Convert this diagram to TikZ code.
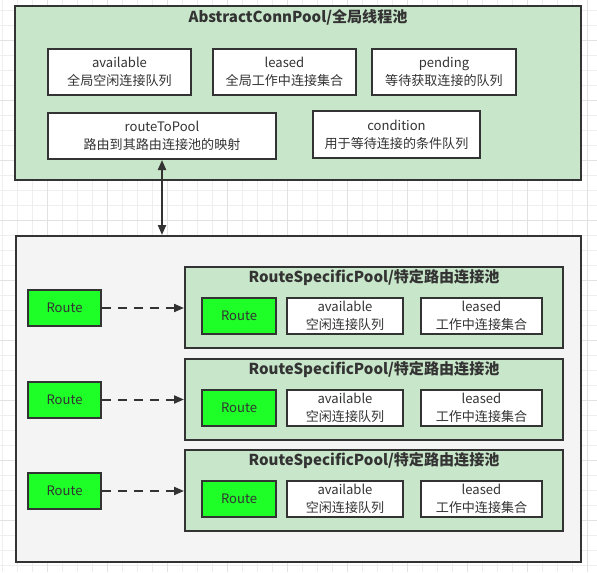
\documentclass[tikz,border=0pt]{standalone}
\usepackage{fontspec}
\setmainfont{Noto Sans CJK SC}
\usetikzlibrary{arrows.meta}
\definecolor{cgreen}{RGB}{200,230,201}
\definecolor{croute}{RGB}{30,255,40}
\definecolor{cgray}{RGB}{244,244,244}
\definecolor{cline}{RGB}{51,51,51}
\definecolor{ctext}{RGB}{51,51,51}
\definecolor{gminor}{RGB}{238,238,238}
\definecolor{gmajor}{RGB}{226,226,226}
\newcommand\placebox[7][]{\node[rbox,#1,minimum width={((#5)-(#3))*0.75pt},minimum height={((#6)-(#4))*0.75pt}] (#2) at ({((#3)+(#5))/2},{((#4)+(#6))/2}) {#7};}
\tikzset{
  rbox/.style={draw=cline, line width=1.5pt, inner sep=0pt, align=center, text=ctext,
    font=\fontsize{9.8pt}{13.5pt}\selectfont},
  whitebox/.style={fill=white},
  routebox/.style={fill=croute},
  greenbox/.style={fill=cgreen},
  graybox/.style={fill=cgray},
  titletext/.style={text=ctext, inner sep=0pt, font=\fontsize{11.3pt}{13pt}\selectfont\bfseries},
  gridminor/.style={draw=gminor, line width=0.75pt},
  gridmajor/.style={draw=gmajor, line width=0.75pt},
  link/.style={draw=cline, line width=1.5pt, -{Triangle[length=7.5pt,width=6pt]}},
  biglink/.style={draw=cline, line width=1.5pt, {Triangle[length=7.5pt,width=6pt]}-{Triangle[length=7.5pt,width=6pt]}},
  dashlink/.style={link, dash pattern=on 7pt off 5pt}
}
\begin{document}
\begin{tikzpicture}[x=0.75pt,y=-0.75pt]
\useasboundingbox (0,0) rectangle (597,572);
% background grid
\foreach \i in {0,...,39} \draw[gridminor] ({2.7+15*\i},0) -- ({2.7+15*\i},572);
\foreach \j in {0,...,37} \draw[gridminor] (0,{10+15*\j}) -- (597,{10+15*\j});
\foreach \i in {0,...,9} \draw[gridmajor] ({47.7+60*\i},0) -- ({47.7+60*\i},572);
\foreach \j in {0,...,8} \draw[gridmajor] (0,{40+60*\j}) -- (597,{40+60*\j});
% global pool
\placebox[greenbox]{global}{15}{6}{581}{180}{}
\node[titletext] (globaltitle) at (298,17) {AbstractConnPool/全局线程池};
\placebox[whitebox]{gavail}{48}{49}{191}{95}{available\\全局空闲连接队列}
\placebox[whitebox]{gleased}{213}{49}{356}{95}{leased\\全局工作中连接集合}
\placebox[whitebox]{gpending}{372}{49}{516}{95}{pending\\等待获取连接的队列}
\placebox[whitebox]{rtp}{48}{113}{276}{159}{routeToPool\\路由到其路由连接池的映射}
\placebox[whitebox]{gcond}{313}{111}{480}{158}{condition\\用于等待连接的条件队列}
% lower container
\placebox[graybox]{lower}{16}{236}{581}{562}{}
\draw[biglink] (rtp.south) -- (rtp.south |- lower.north);
% route specific pools
\foreach \k/\d in {1/0,2/91.5,3/183}{
  \placebox[greenbox]{pool\k}{185}{267+\d}{563}{348+\d}{}
  \node[titletext] (pooltitle\k) at (374,{278+\d}) {RouteSpecificPool/特定路由连接池};
  \placebox[routebox]{iroute\k}{202}{298+\d}{276}{334+\d}{Route}
  \placebox[whitebox]{iavail\k}{287}{298+\d}{403}{334+\d}{available\\空闲连接队列}
  \placebox[whitebox]{ileased\k}{421}{298+\d}{542}{334+\d}{leased\\工作中连接集合}
  \placebox[routebox]{lroute\k}{28}{290+\d}{101}{326+\d}{Route}
  \draw[dashlink] (lroute\k.east) -- (pool\k.west |- lroute\k.east);
}
\end{tikzpicture}
\end{document}
